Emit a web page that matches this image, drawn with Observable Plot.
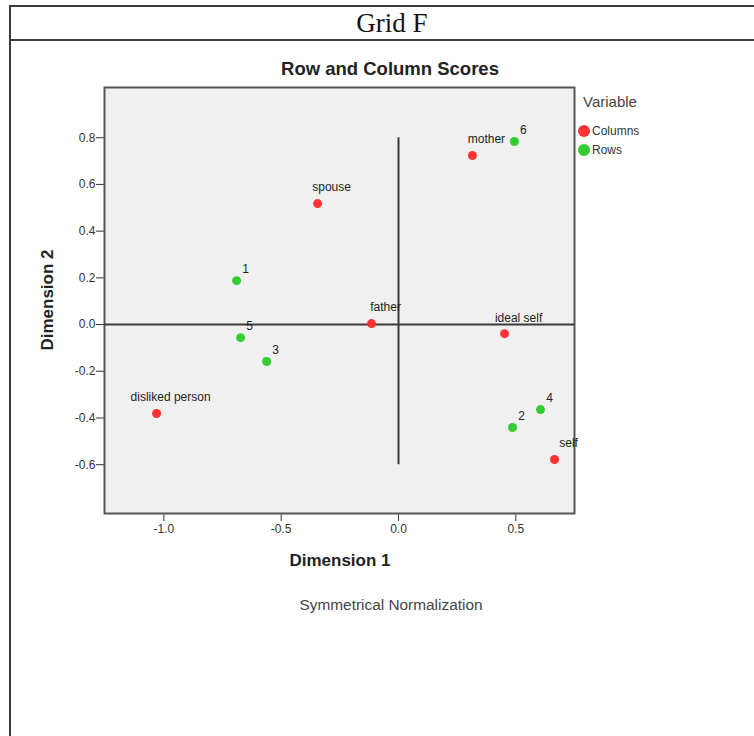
<!DOCTYPE html>
<html>
<head>
<meta charset="utf-8">
<script src="https://cdn.jsdelivr.net/npm/d3@7"></script>
<script src="https://cdn.jsdelivr.net/npm/@observablehq/plot@0.6"></script>
<style>
  html, body { margin: 0; padding: 0; background: #fff; }
  body { width: 754px; height: 736px; position: relative; overflow: hidden; font-family: "Liberation Sans", Arial, sans-serif; }
  .abs { position: absolute; }
  #outer { left: 9px; top: 5px; width: 760px; height: 740px; border-top: 2px solid #3a3a3a; border-left: 2px solid #3a3a3a; }
  #sep { left: 9px; top: 39px; width: 760px; height: 0; border-top: 2px solid #3a3a3a; }
  #gridtitle { left: 0; width: 784px; top: 7px; text-align: center; font-family: "Liberation Serif", "DejaVu Serif", serif; font-size: 27px; color: #111; line-height: 32px; }
  #plottitle { left: 190px; width: 400px; top: 58px; text-align: center; font-weight: bold; font-size: 18.5px; color: #222; line-height: 22px; }
  #xlabel { left: 190px; width: 300px; top: 550px; text-align: center; font-weight: bold; font-size: 17px; color: #222; line-height: 22px; }
  #ylabel { left: -52px; width: 200px; top: 289px; text-align: center; font-weight: bold; font-size: 17px; color: #222; line-height: 22px; transform: rotate(-90deg); }
  #caption { left: 191px; width: 400px; top: 596px; text-align: center; font-size: 15.4px; color: #444; line-height: 18px; }
  #legend { left: 578px; top: 93px; color: #444; }
  #legend .lt { font-size: 15px; margin-left: 5px; margin-bottom: 10px; line-height: 18px; }
  #legend .it { display: flex; align-items: center; font-size: 12px; height: 19px; color: #333; }
  #legend .sw { width: 12px; height: 12px; border-radius: 50%; margin-right: 2px; }
  #chart { left: 0; top: 0; }
</style>
</head>
<body>
<div id="outer" class="abs"></div>
<div id="sep" class="abs"></div>
<div id="gridtitle" class="abs">Grid F</div>
<div id="chart" class="abs"></div>
<div id="plottitle" class="abs">Row and Column Scores</div>
<div id="xlabel" class="abs">Dimension 1</div>
<div id="ylabel" class="abs">Dimension 2</div>
<div id="caption" class="abs">Symmetrical Normalization</div>
<div id="legend" class="abs"></div>
<script>
// ---- data ----
const columnNames = ["mother", "spouse", "father", "ideal self", "disliked person", "self"];
const columnDim1  = [0.315, -0.345, -0.115, 0.452, -1.031, 0.665];
const columnDim2  = [0.724, 0.518, 0.004, -0.039, -0.381, -0.578];

const rowNames = ["1", "2", "3", "4", "5", "6"];
const rowDim1  = [-0.690, 0.486, -0.562, 0.605, -0.673, 0.494];
const rowDim2  = [0.188, -0.441, -0.158, -0.364, -0.056, 0.784];

const xTicks = [-1.0, -0.5, 0.0, 0.5];
const yTicks = [-0.6, -0.4, -0.2, 0.0, 0.2, 0.4, 0.6, 0.8];
const xDomain = [-1.253, 0.750];
const yDomain = [-0.809, 1.015];

const originX = [0];
const originY = [0];
const verticalRefExtent = [-0.6, 0.8];

const legendLabels = ["Columns", "Rows"];
const legendColors = ["#ff3333", "#33cc33"];

// ---- build tables ----
const columns = columnNames.map((name, i) => ({name, x: columnDim1[i], y: columnDim2[i]}));
const rows = rowNames.map((name, i) => ({name, x: rowDim1[i], y: rowDim2[i]}));
const vRule = originX.map(x => ({x, y1: verticalRefExtent[0], y2: verticalRefExtent[1]}));

const fmt = d => d.toFixed(1);

const chart = Plot.plot({
  width: 754,
  height: 736,
  marginLeft: 104,
  marginRight: 180,
  marginTop: 87,
  marginBottom: 223,
  style: {background: "transparent", fontFamily: "'Liberation Sans', Arial, sans-serif", fontSize: "12px", color: "#333"},
  x: {domain: xDomain, ticks: xTicks, tickFormat: fmt, label: null, tickSize: 8, tickPadding: 3},
  y: {domain: yDomain, ticks: yTicks, tickFormat: fmt, label: null, tickSize: 8, tickPadding: 1},
  marks: [
    Plot.frame({fill: "#f0f0f0", stroke: "#555", strokeWidth: 2}),
    Plot.ruleY(originY, {stroke: "#3a3a3a", strokeWidth: 2}),
    Plot.ruleX(vRule, {x: "x", y1: "y1", y2: "y2", stroke: "#3a3a3a", strokeWidth: 2}),
    Plot.dot(columns, {x: "x", y: "y", r: 4.5, fill: legendColors[0], stroke: "none"}),
    Plot.dot(rows, {x: "x", y: "y", r: 4.5, fill: legendColors[1], stroke: "none"}),
    Plot.text(columns, {x: "x", y: "y", text: "name", dx: 14, dy: -16, fill: "#222", fontSize: 12, textAnchor: "middle"}),
    Plot.text(rows, {x: "x", y: "y", text: "name", dx: 9, dy: -11, fill: "#222", fontSize: 12, textAnchor: "middle"})
  ]
});
document.getElementById("chart").append(chart);

// ---- legend ----
const legend = document.getElementById("legend");
const lt = document.createElement("div");
lt.className = "lt";
lt.textContent = "Variable";
legend.append(lt);
legendLabels.forEach((lab, i) => {
  const it = document.createElement("div");
  it.className = "it";
  const sw = document.createElement("span");
  sw.className = "sw";
  sw.style.background = legendColors[i];
  const tx = document.createElement("span");
  tx.textContent = lab;
  it.append(sw, tx);
  legend.append(it);
});
</script>
</body>
</html>
